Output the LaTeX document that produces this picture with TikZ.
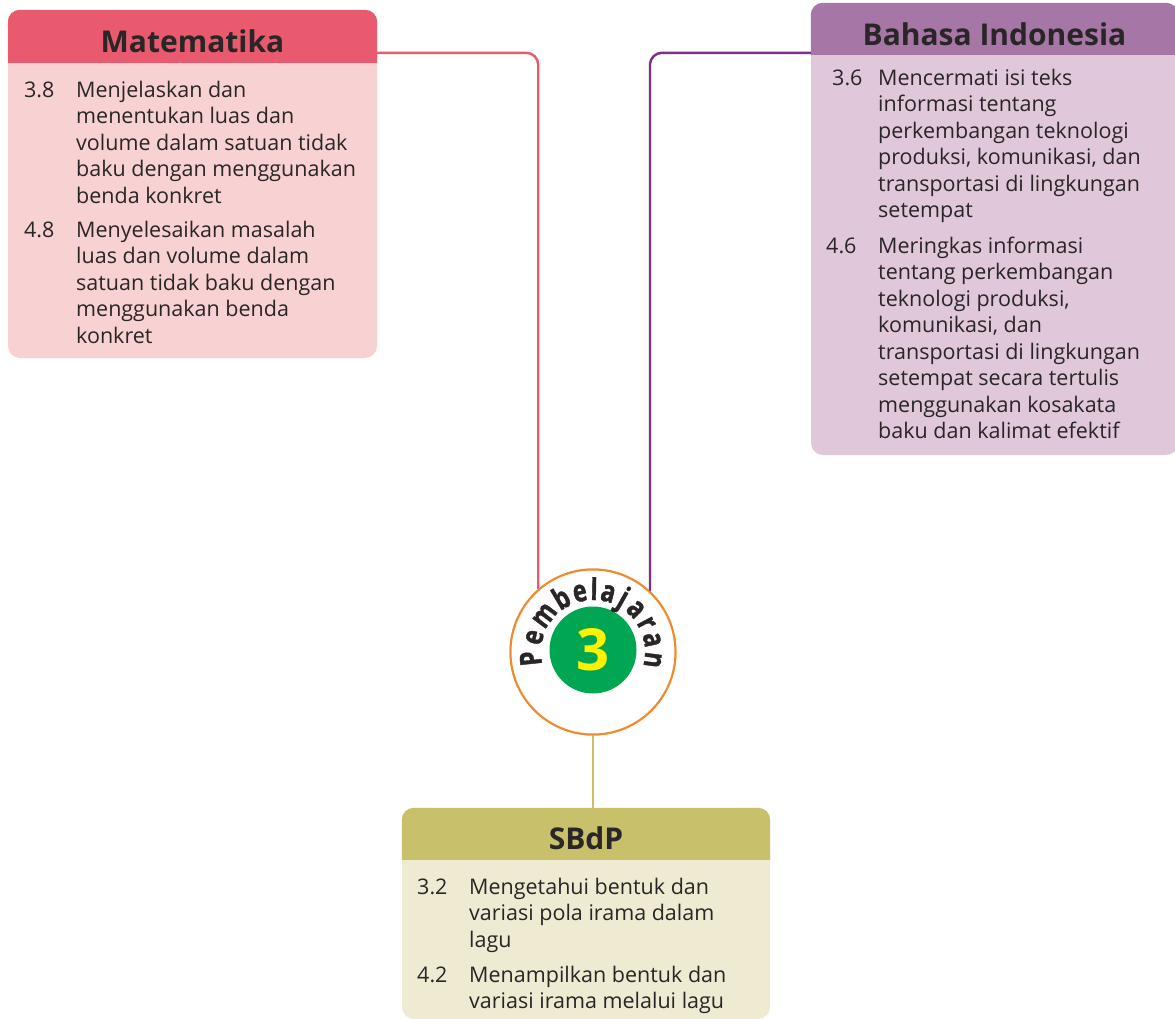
\documentclass[tikz,border=0pt]{standalone}
\usepackage{fontspec}
\setmainfont{Open Sans}
\newfontfamily\arcfont{Open Sans}[FakeStretch=0.78, FakeBold=1.3]
\usetikzlibrary{calc}
\definecolor{mhd}{HTML}{E95A6F}
\definecolor{mbd}{HTML}{F8D2D3}
\definecolor{bhd}{HTML}{A676A6}
\definecolor{bbd}{HTML}{E0C7D9}
\definecolor{bln}{HTML}{7E2D8C}
\definecolor{shd}{HTML}{C8C06A}
\definecolor{sbd}{HTML}{EFEBD2}
\definecolor{orng}{HTML}{F08A2C}
\definecolor{grn}{HTML}{00A651}
\definecolor{ylw}{HTML}{FFF200}
\definecolor{ink}{HTML}{2A2526}
\tikzset{
 boxbody/.style={rectangle, rounded corners=12pt, inner sep=0pt, draw=none},
 hdrtext/.style={anchor=base, font=\fontsize{30}{32}\selectfont\bfseries, text=ink, inner sep=0pt},
 numtext/.style={anchor=base west, font=\fontsize{21.5}{26.5}\selectfont, text=ink, inner sep=0pt},
 itemtext/.style={anchor=base west, font=\fontsize{21.5}{26.5}\selectfont, text=ink, inner sep=0pt},
 conn/.style={line width=2.4pt, rounded corners=12pt},
 ring/.style={circle, draw=orng, line width=2pt, fill=white, minimum size=165pt, inner sep=0pt},
 arcl/.style={anchor=base, inner sep=0pt, text=ink, font=\arcfont\bfseries\fontsize{30}{30}\selectfont},
}
\newcommand{\itm}[1]{\begin{tabular}[t]{@{}l@{}}#1\end{tabular}}
\begin{document}
\begin{tikzpicture}[x=1pt,y=-1pt]
\clip (0,0) rectangle (1175,1018);
\fill[white] (0,0) rectangle (1175,1018);
% boxes
\node[boxbody, fill=mbd, minimum width=369pt, minimum height=348pt] (mbox) at (192.5,184) {};
\node[boxbody, fill=bbd, minimum width=367pt, minimum height=452pt] (bbox) at (994.5,229) {};
\node[boxbody, fill=sbd, minimum width=368pt, minimum height=211pt] (sbox) at (586,913.5) {};
\begin{scope}
\clip (mbox.north west) rectangle ([yshift=-53pt]mbox.north east);
\fill[mhd, rounded corners=12pt] (mbox.north west) rectangle (mbox.south east);
\end{scope}
\begin{scope}
\clip (bbox.north west) rectangle ([yshift=-52pt]bbox.north east);
\fill[bhd, rounded corners=12pt] (bbox.north west) rectangle (bbox.south east);
\end{scope}
\begin{scope}
\clip (sbox.north west) rectangle ([yshift=-52pt]sbox.north east);
\fill[shd, rounded corners=12pt] (sbox.north west) rectangle (sbox.south east);
\end{scope}
% headers
\node[hdrtext] (mtitle) at (192.5,52) {Matematika};
\node[hdrtext] (btitle) at (994.5,45) {Bahasa Indonesia};
\node[hdrtext] (stitle) at (586,849) {SBdP};
% circle
\node[ring] (circ) at (593,652) {};
% connectors
\draw[conn, mhd] ([yshift=-43pt]mbox.north east) -| (circ.131.5);
\draw[conn, bln] ([yshift=-50pt]bbox.north west) -| (circ.47.6);
\draw[conn, shd] (circ.south) -- (circ.south |- sbox.north);
\node[ring] at (circ.center) {};
\node[circle, fill=grn, minimum size=87pt, inner sep=0pt, text=ylw, font=\fontsize{58}{58}\selectfont\bfseries] (num) at ([yshift=2pt]circ.center) {3};
\foreach \ch/\ang [count=\i] in {P/186, e/166, m/143, b/120.5, e/102.5, l/89, a/75.5, j/60.5, a/45, r/28, a/11.7, n/-7.5}
  \node[arcl, rotate=\ang-90] (L\i) at ([shift={(\ang:52pt)}]circ.center) {\ch};
% Matematika items
\node[numtext] (m1n) at (24,97.3) {3.8};
\node[itemtext] (m1t) at (76,97.3) {\itm{Menjelaskan dan\\menentukan luas dan\\volume dalam satuan tidak\\baku dengan menggunakan\\benda konkret}};
\node[numtext] (m2n) at (24,237) {4.8};
\node[itemtext] (m2t) at (76,237) {\itm{Menyelesaikan masalah\\luas dan volume dalam\\satuan tidak baku dengan\\menggunakan benda\\konkret}};
% Bahasa items
\node[numtext] (b1n) at (832,85) {3.6};
\node[itemtext] (b1t) at (878,85) {\itm{Mencermati isi teks\\informasi tentang\\perkembangan teknologi\\produksi, komunikasi, dan\\transportasi di lingkungan\\setempat}};
\node[numtext] (b2n) at (826,253) {4.6};
\node[itemtext] (b2t) at (878,253) {\itm{Meringkas informasi\\tentang perkembangan\\teknologi produksi,\\komunikasi, dan\\transportasi di lingkungan\\setempat secara tertulis\\menggunakan kosakata\\baku dan kalimat efektif}};
% SBdP items
\node[numtext] (s1n) at (417,894) {3.2};
\node[itemtext] (s1t) at (469,894) {\itm{Mengetahui bentuk dan\\variasi pola irama dalam\\lagu}};
\node[numtext] (s2n) at (417,982) {4.2};
\node[itemtext] (s2t) at (469,982) {\itm{Menampilkan bentuk dan\\variasi irama melalui lagu}};
\end{tikzpicture}
\end{document}
